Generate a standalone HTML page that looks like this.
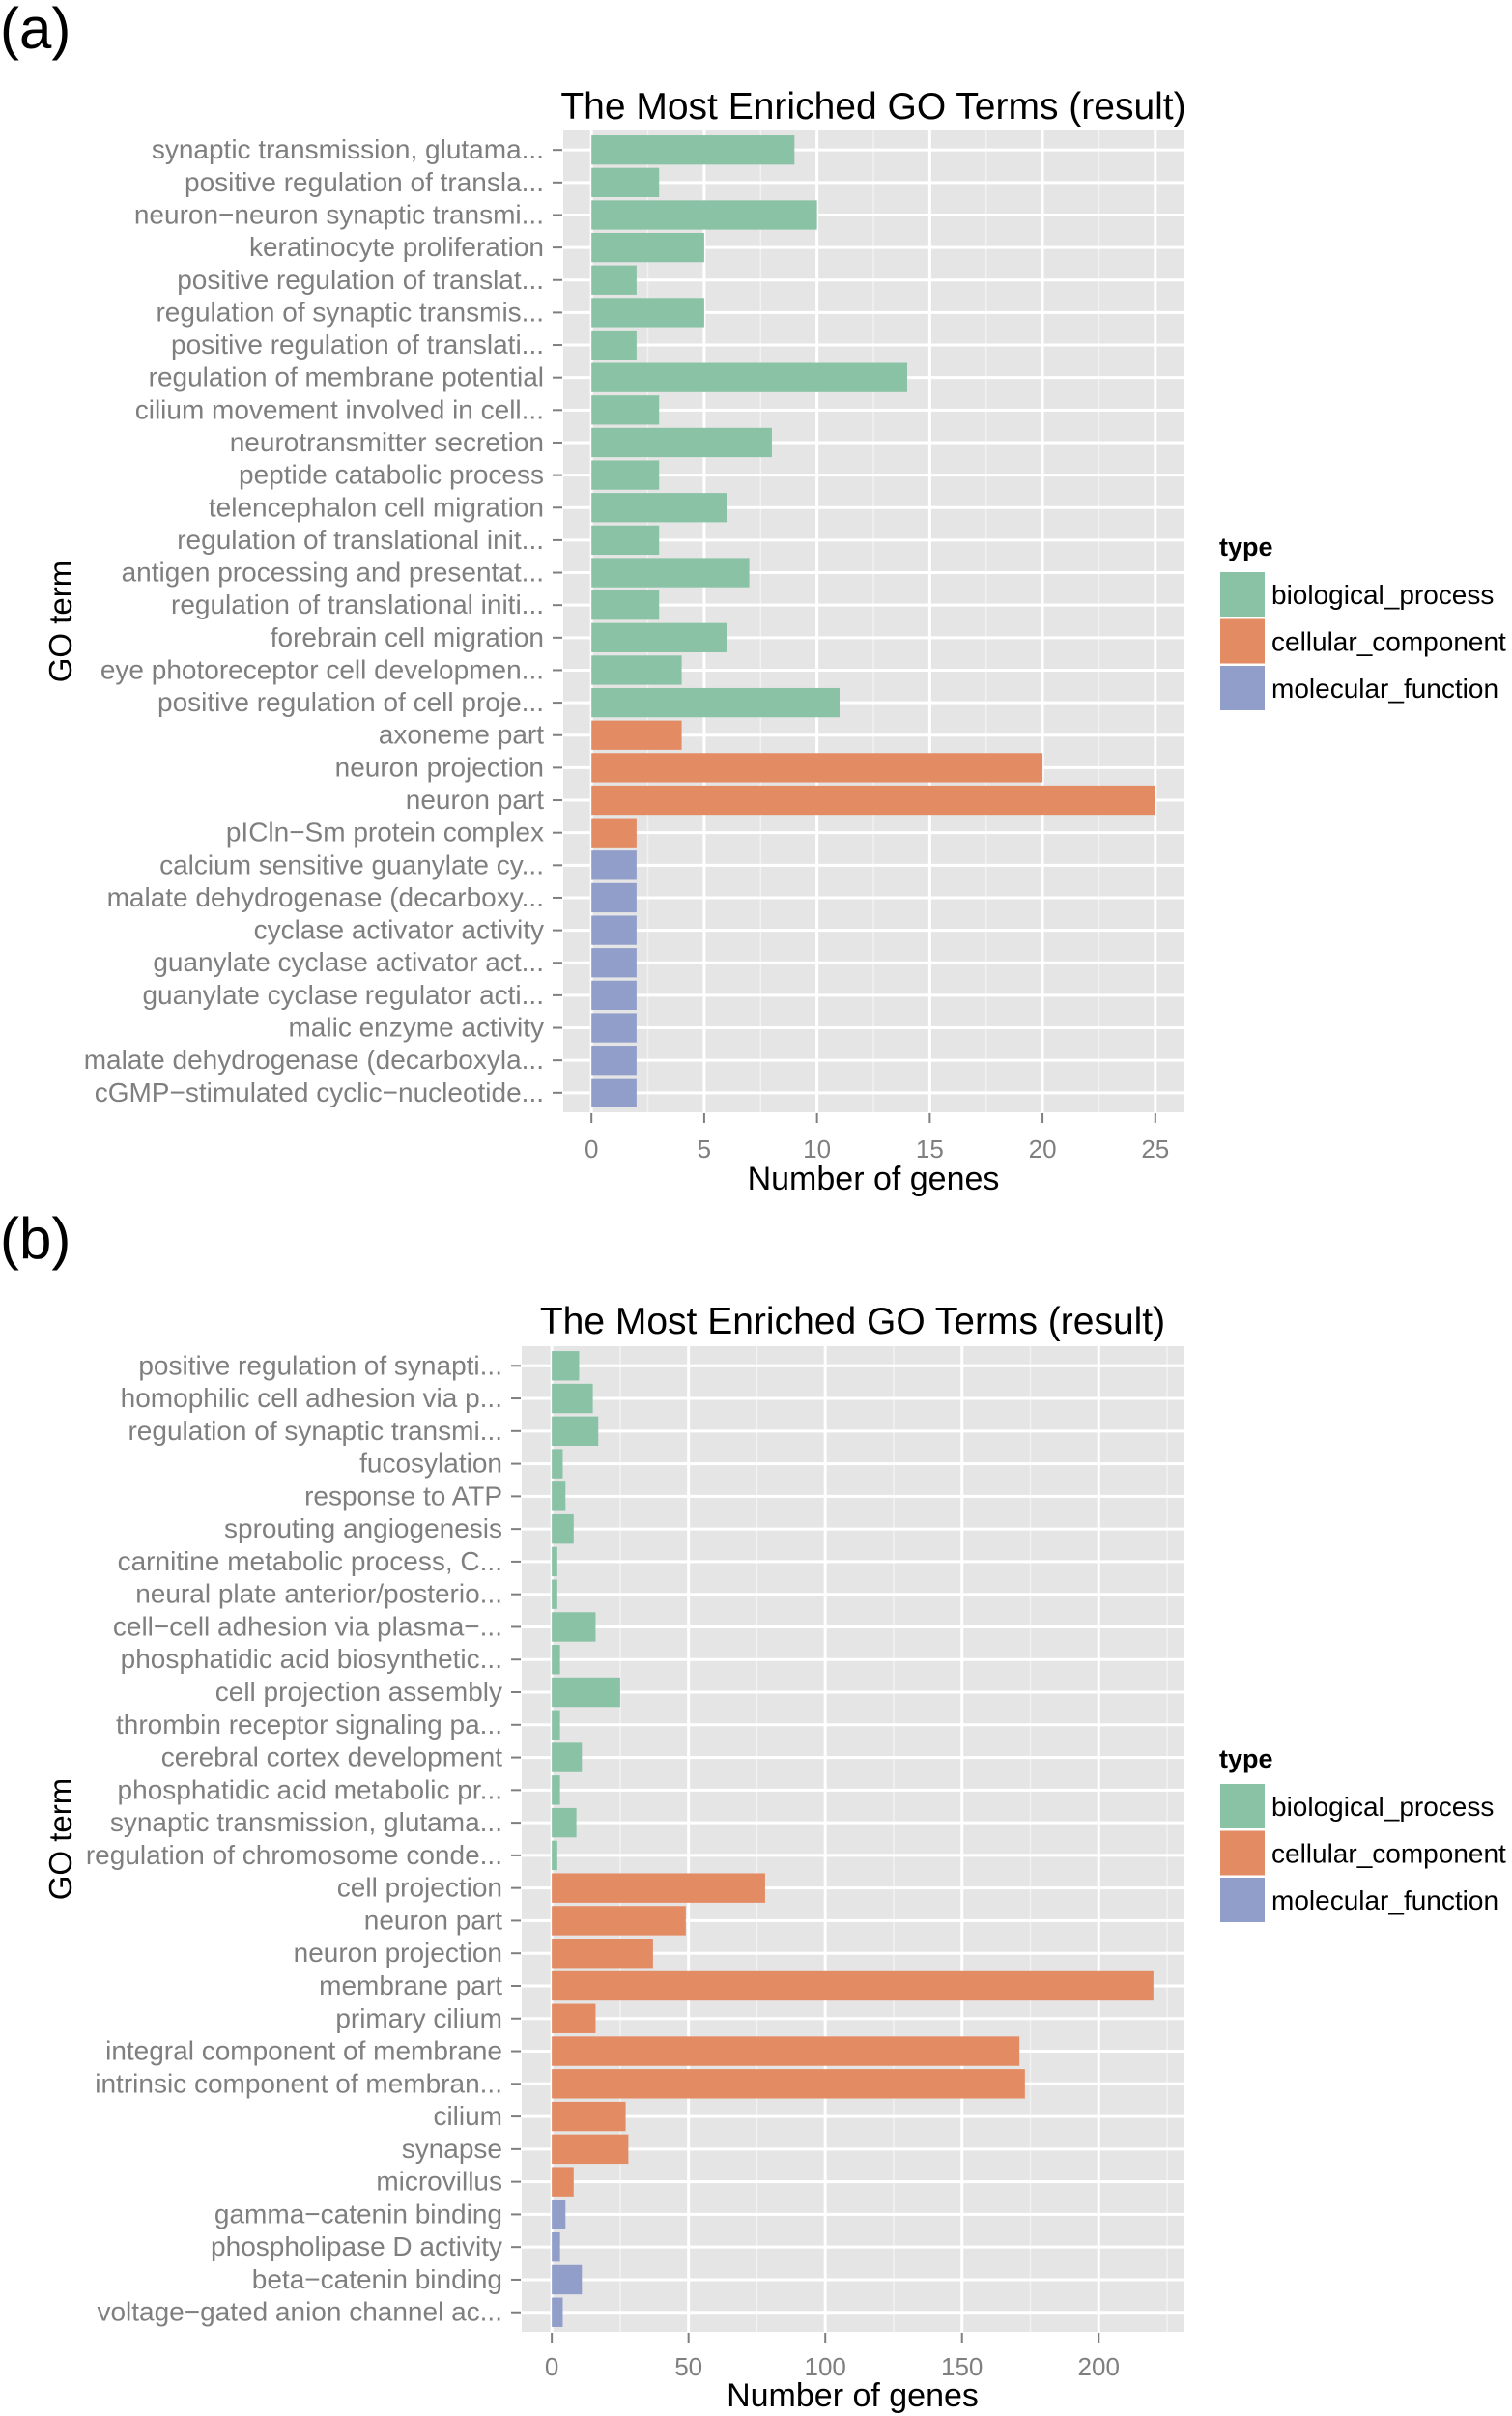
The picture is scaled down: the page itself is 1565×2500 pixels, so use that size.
<!DOCTYPE html>
<html><head><meta charset="utf-8">
<style>
html,body{margin:0;padding:0;background:#fff;}
svg{display:block;font-family:"Liberation Sans",sans-serif;}
</style></head>
<body>
<svg id="fig" width="1565" height="2500" viewBox="0 0 1565 2500" xmlns="http://www.w3.org/2000/svg">
<text x="0" y="50" font-size="60" fill="#000">(a)</text>
<text x="0" y="1302" font-size="60" fill="#000">(b)</text>
</svg>
<script>
const termsA = ["synaptic transmission, glutama...","positive regulation of transla...","neuron\u2212neuron synaptic transmi...","keratinocyte proliferation","positive regulation of translat...","regulation of synaptic transmis...","positive regulation of translati...","regulation of membrane potential","cilium movement involved in cell...","neurotransmitter secretion","peptide catabolic process","telencephalon cell migration","regulation of translational init...","antigen processing and presentat...","regulation of translational initi...","forebrain cell migration","eye photoreceptor cell developmen...","positive regulation of cell proje...","axoneme part","neuron projection","neuron part","pICln\u2212Sm protein complex","calcium sensitive guanylate cy...","malate dehydrogenase (decarboxy...","cyclase activator activity","guanylate cyclase activator act...","guanylate cyclase regulator acti...","malic enzyme activity","malate dehydrogenase (decarboxyla...","cGMP\u2212stimulated cyclic\u2212nucleotide..."];
const valuesA = [9,3,10,5,2,5,2,14,3,8,3,6,3,7,3,6,4,11,4,20,25,2,2,2,2,2,2,2,2,2];
const typesA = ["bp","bp","bp","bp","bp","bp","bp","bp","bp","bp","bp","bp","bp","bp","bp","bp","bp","bp","cc","cc","cc","cc","mf","mf","mf","mf","mf","mf","mf","mf"];
const ticksA = [0,5,10,15,20,25];

const termsB = ["positive regulation of synapti...","homophilic cell adhesion via p...","regulation of synaptic transmi...","fucosylation","response to ATP","sprouting angiogenesis","carnitine metabolic process, C...","neural plate anterior/posterio...","cell\u2212cell adhesion via plasma\u2212...","phosphatidic acid biosynthetic...","cell projection assembly","thrombin receptor signaling pa...","cerebral cortex development","phosphatidic acid metabolic pr...","synaptic transmission, glutama...","regulation of chromosome conde...","cell projection","neuron part","neuron projection","membrane part","primary cilium","integral component of membrane","intrinsic component of membran...","cilium","synapse","microvillus","gamma\u2212catenin binding","phospholipase D activity","beta\u2212catenin binding","voltage\u2212gated anion channel ac..."];
const valuesB = [10,15,17,4,5,8,2,2,16,3,25,3,11,3,9,2,78,49,37,220,16,171,173,27,28,8,5,3,11,4];
const typesB = ["bp","bp","bp","bp","bp","bp","bp","bp","bp","bp","bp","bp","bp","bp","bp","bp","cc","cc","cc","cc","cc","cc","cc","cc","cc","cc","mf","mf","mf","mf"];
const ticksB = [0,50,100,150,200];

const legendKeys = ["bp","cc","mf"];
const legendLabels = ["biological_process","cellular_component","molecular_function"];
const colors = {bp:"#89c2a5", cc:"#e38b63", mf:"#909ec9"};

const NS = "http://www.w3.org/2000/svg";
const svg = document.getElementById("fig");
function mk(tag, attrs, parent, text){
  const e = document.createElementNS(NS, tag);
  for (const k in attrs) e.setAttribute(k, attrs[k]);
  if (text !== undefined) e.textContent = text;
  (parent || svg).appendChild(e);
  return e;
}

function drawChart(cfg, terms, values, types, ticks, prefix){
  const g = mk("g", {});
  
  
  const L = cfg.left, R = cfg.right, T = cfg.top, B = cfg.bottom;
  const maxV = Math.max.apply(null, values);
  const pad = maxV * 0.05;
  const d0 = -pad, d1 = maxV + pad;
  const xs = v => L + (v - d0) / (d1 - d0) * (R - L);
  const n = terms.length;
  const step = (B - T) / (n - 1 + 1.2);
  const ys = i => T + (0.6 + i) * step;

  const bg = mk("rect", {x:L, y:T, width:R-L, height:B-T, fill:"#e5e5e5"}, g);
  
  
  const tstep = ticks[1] - ticks[0];
  for (let v = ticks[0] - tstep/2; v <= d1; v += tstep){
    if (v < d0) continue;
    mk("line", {x1:xs(v), x2:xs(v), y1:T, y2:B, stroke:"#f2f2f2", "stroke-width":1.5}, g);
  }
  ticks.forEach(v => {
    mk("line", {x1:xs(v), x2:xs(v), y1:T, y2:B, stroke:"#fff", "stroke-width":3}, g);
  });
  for (let i = 0; i < n; i++){
    mk("line", {x1:L, x2:R, y1:ys(i), y2:ys(i), stroke:"#fff", "stroke-width":3}, g);
  }
  const bh = step * 0.9;
  for (let i = 0; i < n; i++){
    const r = mk("rect", {x:xs(0), y:ys(i)-bh/2, width:xs(values[i])-xs(0), height:bh, fill:colors[types[i]]}, g);
    
    
    mk("line", {x1:L-11, x2:L-1, y1:ys(i), y2:ys(i), stroke:"#7f7f7f", "stroke-width":2}, g);
    const t = mk("text", {x:L-20, y:ys(i)+9, "font-size":28, fill:"#7f7f7f", "text-anchor":"end"}, g, terms[i]);
    
    
  }
  ticks.forEach(v => {
    mk("line", {x1:xs(v), x2:xs(v), y1:B+1, y2:B+11, stroke:"#7f7f7f", "stroke-width":2}, g);
    const t = mk("text", {x:xs(v), y:cfg.tickY, "font-size":26, fill:"#7f7f7f", "text-anchor":"middle"}, g, String(v));
    
    
  });
  const title = mk("text", {x:(L+R)/2, y:cfg.titleY, "font-size":39, fill:"#000", "text-anchor":"middle"}, g, "The Most Enriched GO Terms (result)");
  
  
  const xt = mk("text", {x:(L+R)/2, y:cfg.xTitleY, "font-size":34, fill:"#000", "text-anchor":"middle"}, g, "Number of genes");
  
  
  const cy = (T+B)/2;
  const yt = mk("text", {x:74, y:cy, "font-size":33, fill:"#000", "text-anchor":"middle", transform:"rotate(-90 74 "+cy+")"}, g, "GO term");
  
  
  const lg = mk("g", {}, g);
  
  
  mk("text", {x:1262, y:cfg.legendY, "font-size":27, "font-weight":"bold", fill:"#000"}, lg, "type");
  legendKeys.forEach((k, j) => {
    const ky = cfg.legendY + 16 + j*48.5;
    const e = mk("g", {}, lg);
    
    
    mk("rect", {x:1262, y:ky, width:48, height:48, fill:colors[k], stroke:"#fff", "stroke-width":2}, e);
    mk("text", {x:1316, y:ky+34, "font-size":28, fill:"#000"}, e, legendLabels[j]);
  });
}

drawChart({left:583, right:1225, top:135, bottom:1151, tickY:1198, xTitleY:1231, titleY:123, legendY:575}, termsA, valuesA, typesA, ticksA, "chart-a");
drawChart({left:540, right:1225, top:1393, bottom:2413, tickY:2458, xTitleY:2490, titleY:1380, legendY:1829}, termsB, valuesB, typesB, ticksB, "chart-b");
</script>
</body></html>
